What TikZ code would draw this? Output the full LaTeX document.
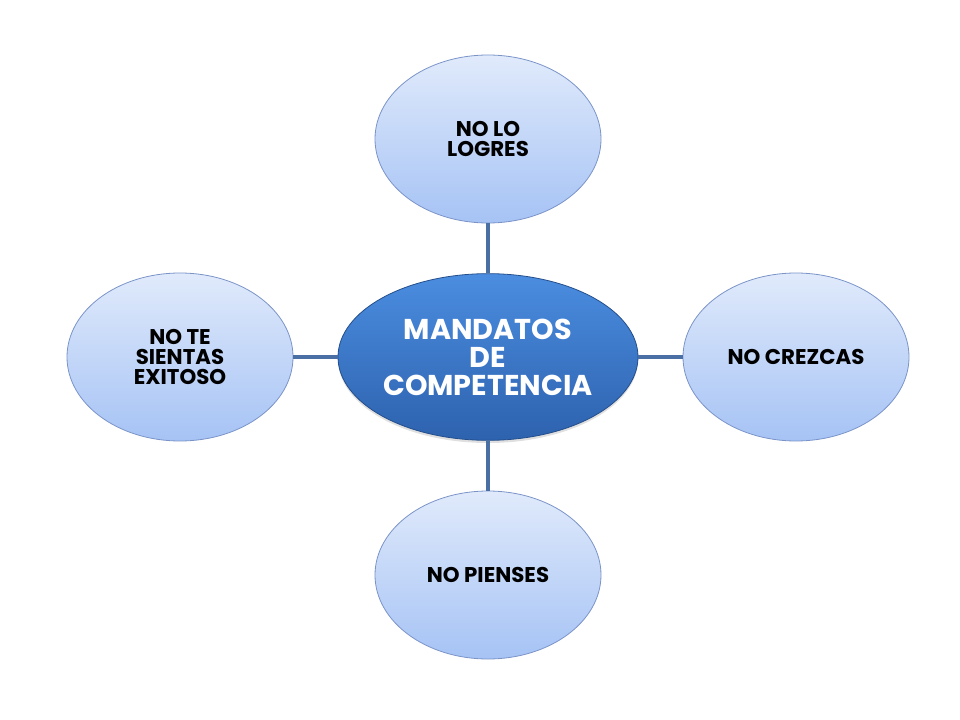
\documentclass[tikz,border=0pt]{standalone}
\usepackage{fontspec}
\setmainfont{Poppins}
\usetikzlibrary{shapes.geometric,shadows}

\definecolor{outertop}{HTML}{E0EAFB}
\definecolor{outerbottom}{HTML}{A6C3F5}
\definecolor{outerline}{HTML}{7B94C8}
\definecolor{centertop}{HTML}{4B8DE0}
\definecolor{centerbottom}{HTML}{2D62AE}
\definecolor{linkcolor}{HTML}{4A6FA5}

\begin{document}
\begin{tikzpicture}[
    x=0.75pt,
    y=-0.75pt,
    mandato/.style={
      ellipse,
      draw=outerline,
      line width=0.6pt,
      top color=outertop,
      bottom color=outerbottom,
      minimum width=169.5pt,
      minimum height=126pt,
      inner sep=0pt,
      align=center,
      font=\bfseries\fontsize{16}{15}\selectfont
    },
    centro/.style={
      ellipse,
      draw=centerbottom!80!black,
      line width=0.6pt,
      top color=centertop,
      bottom color=centerbottom,
      drop shadow={opacity=0.25,shadow xshift=0pt,shadow yshift=-2pt},
      minimum width=225pt,
      minimum height=125pt,
      inner sep=0pt,
      align=center,
      text=white,
      font=\bfseries\fontsize{21.5}{21}\selectfont
    },
    link/.style={
      draw=linkcolor,
      line width=2.4pt
    }
  ]
    \useasboundingbox (0,0) rectangle (960,720);

    \node[centro] (mandatos) at (488,357) {MANDATOS\\DE\\COMPETENCIA};

    \node[mandato] (logres) at (488,139) {NO LO\\LOGRES};
    \node[mandato] (exitoso) at (180,357) {NO TE\\SIENTAS\\EXITOSO};
    \node[mandato] (crezcas) at (796,357) {NO CREZCAS};
    \node[mandato] (pienses) at (488,575) {NO PIENSES};

    \foreach \n in {logres,exitoso,crezcas,pienses}
      \draw[link] (mandatos) -- (\n);
  \end{tikzpicture}
\end{document}
